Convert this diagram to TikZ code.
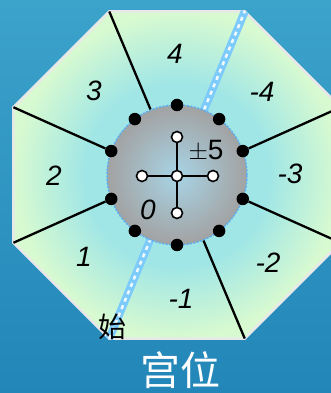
\documentclass[tikz,border=0pt]{standalone}
\usepackage{fontspec}
\setmainfont{Liberation Sans}
\newfontfamily\cjk{Noto Sans CJK SC}
\usepackage{tikz}
\usetikzlibrary{calc}
\definecolor{bgtop}{HTML}{3CA3CB}
\definecolor{bgbot}{HTML}{2286B8}
\definecolor{octedge}{HTML}{D8FAD0}
\definecolor{octmid}{HTML}{A0E6E6}
\definecolor{band}{HTML}{7DCBFB}
\definecolor{rim}{HTML}{5AAEF2}
\definecolor{coremid}{HTML}{A8D4E6}
\definecolor{coreedge}{HTML}{A2A2A2}
\pgfdeclareradialshading{octshade}{\pgfpoint{0bp}{0bp}}{color(0bp)=(octmid); color(14bp)=(octmid); color(25bp)=(octedge); color(50bp)=(octedge)}

\begin{document}
\begin{tikzpicture}[
    x=1pt, y=1pt,
    dot/.style={circle, fill=black, inner sep=0pt, minimum size=12.5pt},
    hole/.style={circle, draw=black, line width=1.6pt, fill=white,
        inner sep=0pt, minimum size=11pt},
    spoke/.style={line width=2.3pt, black},
    num/.style={font=\fontsize{28}{30}\selectfont\itshape, inner sep=0pt}
]
\clip (0,0) rectangle (331,393);
\shade[top color=bgtop, bottom color=bgbot] (0,0) rectangle (331,393);

\coordinate (c) at (177,218);
\foreach \k in {1,...,8}
    \coordinate (v\k) at ($(c)+({22.5+45*(\k-1)}:177)$);
\shadedraw[shading=octshade, draw=black!9, line width=2.5pt]
    (v1) -- (v2) -- (v3) -- (v4) -- (v5) -- (v6) -- (v7) -- (v8) -- cycle;

\draw[band, line width=8pt] (v6) -- (v2);
\draw[white!90!band, line width=2.5pt, dash pattern=on 4pt off 4pt] (v6) -- (v2);

\node[circle, minimum size=140pt, inner sep=0pt, inner color=coremid,
    outer color=coreedge, draw=rim, line width=1.5pt,
    dash pattern=on 2pt off 1.5pt] (core) at (c) {};

\foreach \a [count=\i] in {20,53,90,127,160,200,233,270,307,340}
    \node[dot] (d\i) at ($(c)+(\a:70)$) {};

\draw[spoke] (v1) -- (d1);
\draw[spoke] (v3) -- (core.112.5);
\draw[spoke] (v4) -- (d5);
\draw[spoke] (v5) -- (d6);
\draw[spoke] (v7) -- (core.292.5);
\draw[spoke] (v8) -- (d10);

\node[hole] (h0) at (177,217) {};
\node[hole] (hup) at (177,256) {};
\node[hole] (hleft) at (142,217) {};
\node[hole] (hright) at (213,217) {};
\node[hole] (hdown) at (177,180) {};
\draw[spoke] (h0) -- (hup);
\draw[spoke] (h0) -- (hleft);
\draw[spoke] (h0) -- (hright);
\draw[spoke] (h0) -- (hdown);

\node[num] (n4) at (175,339) {4};
\node[num] (n3) at (94,302) {3};
\node[num] (nm4) at (262,301) {-4};
\node[num] (n2) at (54,217) {2};
\node[num] (nm3) at (290,219) {-3};
\node[num] (n1) at (84,136) {1};
\node[num] (nm2) at (268,130) {-2};
\node[num] (nm1) at (181,94) {-1};
\node[num] (n0) at (148,183) {0};
\node[font=\fontsize{28}{30}\selectfont, inner sep=0pt] (pm5) at (206,242) {$\pm$5};
\node[font=\cjk\fontsize{28}{30}\selectfont, inner sep=0pt] (start) at (112,66) {始};
\node[font=\cjk\fontsize{40}{42}\selectfont, text=white, inner sep=0pt,
    anchor=north] (title) at (180,42) {宫位};
\end{tikzpicture}
\end{document}
